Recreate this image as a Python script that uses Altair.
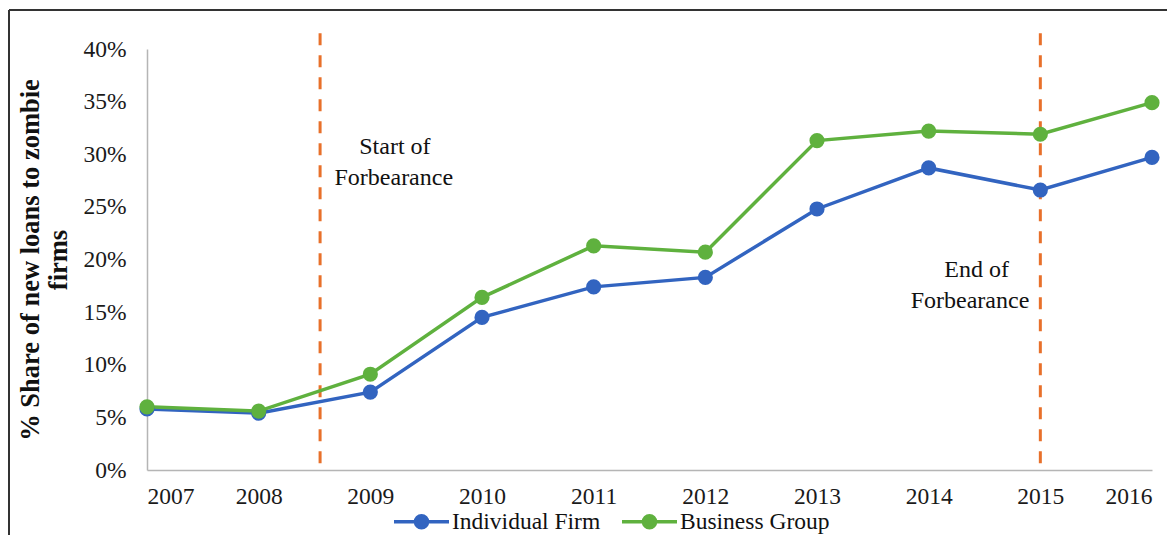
import altair as alt
import pandas as pd

years = [2007, 2008, 2009, 2010, 2011, 2012, 2013, 2014, 2015, 2016]
individual = [0.058, 0.054, 0.074, 0.145, 0.174, 0.183, 0.248, 0.287, 0.266, 0.297]
business = [0.060, 0.056, 0.091, 0.164, 0.213, 0.207, 0.313, 0.322, 0.319, 0.349]
series_names = ["Individual Firm", "Business Group"]
colors = ["#3264C0", "#5FB13E"]

event_x = [2008.55, 2015.0]
note_text = ["Start of", "Forbearance", "End of", "Forbearance"]
note_x = [2009.22, 2009.21, 2014.43, 2014.37]
note_y = [0.307, 0.277, 0.190, 0.161]

FONT = "Liberation Serif"

df = pd.DataFrame({
    "year": years * 2,
    "value": individual + business,
    "series": [series_names[0]] * len(years) + [series_names[1]] * len(years),
})
ev = pd.DataFrame({"x": event_x, "y0": [0.415] * 2, "y1": [-0.002] * 2})
notes = pd.DataFrame({"x": note_x, "y": note_y, "t": note_text})

xs = alt.Scale(domain=[2007, 2016], nice=False)
ys = alt.Scale(domain=[0, 0.4], nice=False)
cs = alt.Scale(domain=series_names, range=colors)

legend_symbol = "M-1,0L-0.22,0M0.22,0L1,0M-0.22,0A0.22,0.22 0 1,1 0.22,0A0.22,0.22 0 1,1 -0.22,0Z"

base = alt.Chart(df).encode(
    x=alt.X("year:Q", scale=xs,
            axis=alt.Axis(values=years, format="d", title=None, ticks=False, grid=False,
                          labelFont=FONT, labelFontSize=23.5, labelColor="#1a1a1a",
                          domainColor="#b5b5b5", domainWidth=1.5, labelPadding=14)),
    y=alt.Y("value:Q", scale=ys,
            axis=alt.Axis(values=[0, .05, .1, .15, .2, .25, .3, .35, .4], format=".0%",
                          ticks=False, grid=False, labelFont=FONT, labelFontSize=23.5,
                          labelColor="#1a1a1a", domainColor="#b5b5b5", domainWidth=1.5,
                          labelPadding=21,
                          title=["% Share of new loans to zombie", "firms"],
                          titleFont=FONT, titleFontSize=26.5, titleFontWeight="bold",
                          titleColor="#111", titlePadding=10, titleLineHeight=28)),
    color=alt.Color("series:N", scale=cs,
                    legend=alt.Legend(title=None, orient="none", legendX=245, legendY=443,
                                      direction="horizontal", symbolType=legend_symbol,
                                      symbolSize=3025, symbolStrokeWidth=3.5,
                                      labelFont=FONT, labelFontSize=23.5, labelColor="#111",
                                      columnPadding=14, labelOffset=1)),
)

lines = base.mark_line(strokeWidth=3.5)
points = base.mark_point(filled=True, size=230, opacity=1)

rules = alt.Chart(ev).mark_rule(color="#E8702A", strokeWidth=3, strokeDash=[12, 10], clip=False).encode(
    x=alt.X("x:Q", scale=xs), y=alt.Y("y0:Q", scale=ys), y2="y1:Q")

text = alt.Chart(notes).mark_text(font=FONT, fontSize=24, color="#111", align="center",
                                  baseline="middle").encode(
    x=alt.X("x:Q", scale=xs), y=alt.Y("y:Q", scale=ys), text="t:N")

frame_left = alt.Chart(ev).mark_rule(color="#333", strokeWidth=2).encode(
    x=alt.value(-138), y=alt.value(-39), y2=alt.value(560))
frame_top = alt.Chart(ev).mark_rule(color="#333", strokeWidth=2).encode(
    x=alt.value(-138), x2=alt.value(1200), y=alt.value(-39))

chart = alt.layer(rules, lines, points, text, frame_left, frame_top).properties(
    width=1005, height=421,
    autosize=alt.AutoSizeParams(type="none"),
    padding={"left": 139, "top": 41, "right": 15, "bottom": 65},
    background="white",
).configure_view(stroke=None)

chart.save("out.html", embed_options={"renderer": "svg", "actions": False})
